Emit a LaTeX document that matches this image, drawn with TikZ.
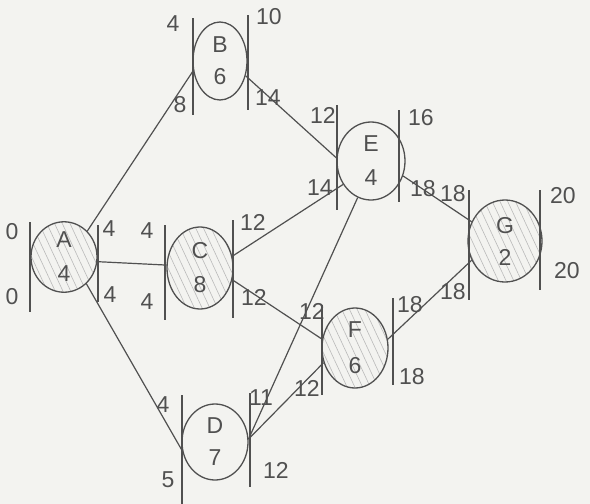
\documentclass[tikz,border=0pt]{standalone}
\usepackage{fontspec}
\setmainfont{Liberation Sans}
\usetikzlibrary{calc,shapes.geometric,patterns.meta}
\definecolor{pencil}{RGB}{80,80,80}
\definecolor{paper}{RGB}{243,243,240}
\tikzset{evt/.style={draw=pencil, line width=1.3pt, ellipse, inner sep=0pt, align=center, text=pencil, font=\fontsize{23}{24}\selectfont},
  crit/.style={evt, pattern={Lines[angle=-65, distance=7pt, line width=0.6pt]}, pattern color=pencil!40},
  act/.style={draw=pencil, line width=1.2pt},
  bar/.style={draw=pencil, line width=1.2pt},
  num/.style={text=pencil, inner sep=0pt, font=\fontsize{23}{24}\selectfont}}

\begin{document}
\begin{tikzpicture}[x=1pt,y=-1pt]
  \fill[paper] (0,0) rectangle (590,504);
  \useasboundingbox (0,0) rectangle (590,504);
  % events
  \node[crit, minimum width=66, minimum height=70] (A) at (64,257) {A\\[10pt]4};
  \node[evt,  minimum width=54, minimum height=78] (B) at (220,61) {B\\[8pt]6};
  \node[crit, minimum width=66, minimum height=82] (C) at (200,268) {C\\[10pt]8};
  \node[evt,  minimum width=66, minimum height=76] (D) at (215,442) {D\\[8pt]7};
  \node[evt,  minimum width=68, minimum height=78] (E) at (371,161) {E\\[10pt]4};
  \node[crit, minimum width=66, minimum height=80] (F) at (355,348) {F\\[12pt]6};
  \node[crit, minimum width=74, minimum height=82] (G) at (505,241) {G\\[8pt]2};
  % activities
  \draw[act] (A.48) -- (B.200);
  \draw[act] (A.-8) -- (C.175);
  \draw[act] (A.-50) -- (D.195);
  \draw[act] (B.-30) -- (E.175);
  \draw[act] (C.20) -- (E.220);
  \draw[act] (C.-20) -- (F.165);
  \draw[act] (D.5) -- (E.250);
  \draw[act] (D.5) -- (F.205);
  \draw[act] (E.-25) -- (G.150);
  \draw[act] (F.15) -- (G.210);
  % bars
  \draw[bar] ($(A)+(-34,-35)$) -- ++(0,90);
  \draw[bar] ($(A)+(34,-32)$) -- ++(0,77);
  \draw[bar] ($(B)+(-27,-43)$) -- ++(0,97);
  \draw[bar] ($(B)+(28,-46)$) -- ++(0,95);
  \draw[bar] ($(C)+(-35,-43)$) -- ++(0,95);
  \draw[bar] ($(C)+(33,-48)$) -- ++(0,98);
  \draw[bar] ($(D)+(-33,-47)$) -- ++(0,109);
  \draw[bar] ($(D)+(35,-49)$) -- ++(0,94);
  \draw[bar] ($(E)+(-34,-56)$) -- ++(0,105);
  \draw[bar] ($(E)+(28,-51)$) -- ++(0,92);
  \draw[bar] ($(F)+(-33,-43)$) -- ++(0,90);
  \draw[bar] ($(F)+(38,-50)$) -- ++(0,87);
  \draw[bar] ($(G)+(-36,-51)$) -- ++(0,110);
  \draw[bar] ($(G)+(35,-51)$) -- ++(0,100);
  % times
  \node[num] (a1) at (12,232) {0};
  \node[num] (a2) at (12,297) {0};
  \node[num] (a3) at (109,229) {4};
  \node[num] (a4) at (110,295) {4};
  \node[num] (b1) at (173,24) {4};
  \node[num] (b2) at (269,17) {10};
  \node[num] (b3) at (180,105) {8};
  \node[num] (b4) at (268,98) {14};
  \node[num] (c1) at (147,231) {4};
  \node[num] (c2) at (147,302) {4};
  \node[num] (c3) at (253,222) {12};
  \node[num] (c4) at (254,297) {12};
  \node[num] (d1) at (163,405) {4};
  \node[num] (d2) at (168,480) {5};
  \node[num] (d3) at (261,398) {11};
  \node[num] (d4) at (276,470) {12};
  \node[num] (e1) at (323,115) {12};
  \node[num] (e2) at (421,118) {16};
  \node[num] (e3) at (320,188) {14};
  \node[num] (e4) at (423,189) {18};
  \node[num] (f1) at (312,311) {12};
  \node[num] (f2) at (307,388) {12};
  \node[num] (f3) at (410,305) {18};
  \node[num] (f4) at (412,377) {18};
  \node[num] (g1) at (453,194) {18};
  \node[num] (g2) at (453,292) {18};
  \node[num] (g3) at (563,196) {20};
  \node[num] (g4) at (567,271) {20};
\end{tikzpicture}
\end{document}
